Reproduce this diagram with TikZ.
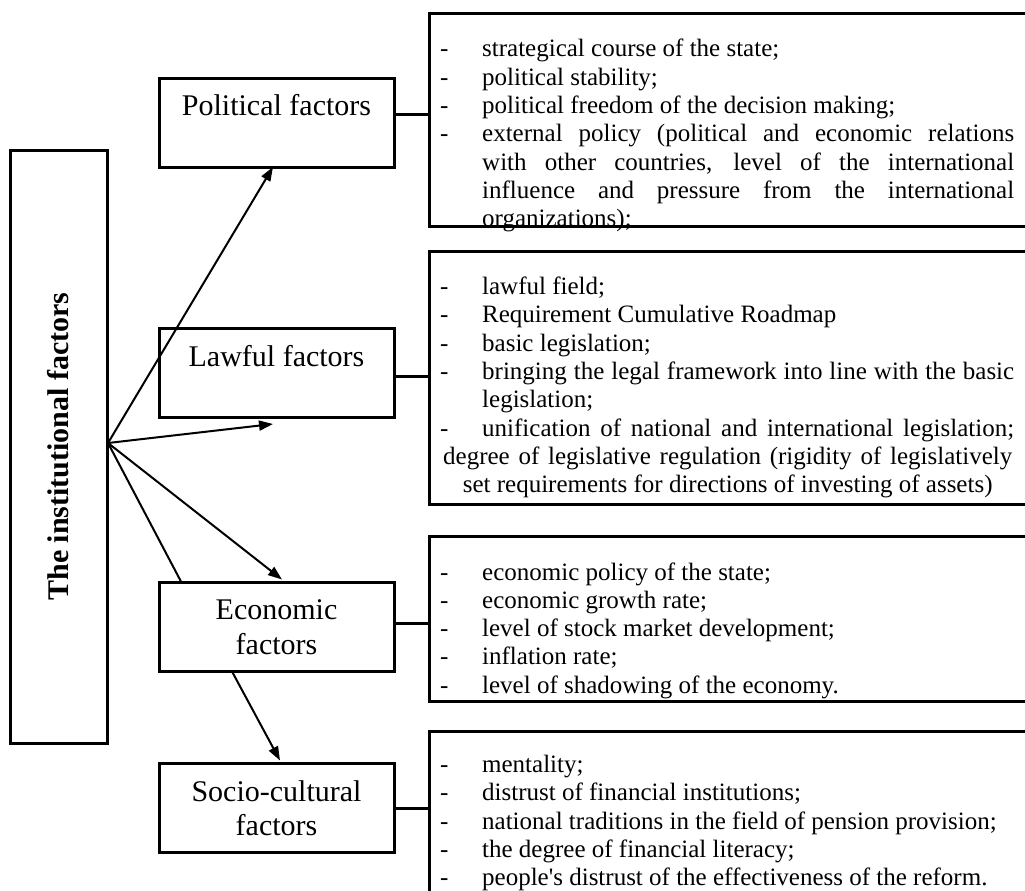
\documentclass[tikz,border=0pt]{standalone}
\usepackage{fontspec}
\usepackage{graphicx}
\setmainfont{Liberation Serif}
\usetikzlibrary{arrows.meta}
\newcommand{\lsetup}{\spaceskip=6.25pt plus 12pt\relax\hyphenpenalty=10000\exhyphenpenalty=10000\tolerance=9999\emergencystretch=20pt\relax}
\newcommand{\litem}[1]{\par{\leftskip=48pt\noindent\hskip-42pt\relax\makebox[42pt][l]{-}#1\par}}
\newcommand{\litemfull}[1]{\par{\leftskip=48pt\parfillskip=0pt\noindent\hskip-42pt\relax\makebox[42pt][l]{-}#1\par}}
\newcommand{\ljustcenter}[1]{\par{\leftskip=9pt plus 1fil\rightskip=2pt plus -1fil\parfillskip=0pt plus 2fil\noindent #1\par}}
\begin{document}
\begin{tikzpicture}[x=1pt,y=-1pt,
  fbox/.style={draw, line width=3pt, rectangle, minimum width=235pt, minimum height=89pt, inner sep=0pt, align=center, font=\fontsize{30}{34.5}\selectfont},
  mainbox/.style={draw, line width=3pt, rectangle, minimum width=97pt, minimum height=593pt, inner sep=0pt, font=\fontsize{30}{34.5}\selectfont\bfseries},
  lbox/.style={draw, line width=3pt, rectangle, anchor=north west, minimum width=650pt, inner sep=0pt},
  ltext/.style={anchor=north west, text width=580pt, inner sep=0pt, align=justify, font=\fontsize{25}{28.3}\selectfont},
  arr/.style={line width=2pt, -{Triangle[length=14pt,width=10pt]}},
  conn/.style={line width=3pt},
  ln/.style={line width=2pt}
]
\useasboundingbox (0,0) rectangle (1025,891);
\clip (0,0) rectangle (1025,891);

% main box
\node[mainbox] (inst) at (58.5,446.5) {\rotatebox{90}{The institutional factors}};

% factor boxes
\node[fbox] (pol) at (276.5,122.5) {Political factors\\ \mbox{}};
\node[fbox] (law) at (276.5,373) {Lawful factors\\ \mbox{}};
\node[fbox] (eco) at (276.5,627) {Economic\\factors};
\node[fbox] (soc) at (276.5,808) {Socio-cultural\\factors};

% list boxes
\node[lbox, minimum height=213pt] (polL) at (428,12) {};
\node[lbox, minimum height=253pt] (lawL) at (428,250) {};
\node[lbox, minimum height=165pt] (ecoL) at (428,535) {};
\node[lbox, minimum height=200pt] (socL) at (428,730) {};

\node[ltext] (polT) at (434,28.5) {\lsetup
\litem{strategical course of the state;}
\litem{political stability;}
\litem{political freedom of the decision making;}
\litem{external policy (political and economic relations with other countries, level of the international influence and pressure from the international organizations);}};

\node[ltext] (lawT) at (434,266) {\lsetup
\litem{lawful field;}
\litem{Requirement Cumulative Roadmap}
\litem{basic legislation;}
\litem{bringing the legal framework into line with the basic legislation;}
\litemfull{unification of national and international legislation;}
\ljustcenter{degree of legislative regulation (rigidity of legislatively set requirements for directions of investing of assets)}};

\node[ltext] (ecoT) at (434,551.5) {\lsetup
\litem{economic policy of the state;}
\litem{economic growth rate;}
\litem{level of stock market development;}
\litem{inflation rate;}
\litem{level of shadowing of the economy.}};

\node[ltext] (socT) at (434,744) {\lsetup
\litem{mentality;}
\litem{distrust of financial institutions;}
\litem{national traditions in the field of pension provision;}
\litem{the degree of financial literacy;}
\litem{people\textquotesingle s distrust of the effectiveness of the reform.}};

% horizontal connectors
\draw[conn] ([yshift=8.5pt]pol.east) -- ([yshift=8.5pt]pol.east -| polL.west);
\draw[conn] ([yshift=-3pt]law.east) -- ([yshift=-3pt]law.east -| lawL.west);
\draw[conn] ([yshift=4pt]eco.east) -- ([yshift=4pt]eco.east -| ecoL.west);
\draw[conn] (soc.east) -- (soc.east -| socL.west);

% arrows from hub
\coordinate (hub) at (108,443);
\coordinate (lawtip) at (273,424);
\draw[arr] (hub) -- ([xshift=-3.5pt,yshift=1.5pt]pol.south);
\draw[arr] (hub) -- (lawtip);
\draw[arr] (hub) -- ([xshift=5.5pt,yshift=1.5pt]eco.north);
\draw[ln] (hub) -- ([xshift=24pt,yshift=-1.5pt]eco.north west);
\draw[arr] ([xshift=-44.5pt,yshift=1.5pt]eco.south) -- ([xshift=3.5pt,yshift=1.5pt]soc.north);
\end{tikzpicture}
\end{document}
